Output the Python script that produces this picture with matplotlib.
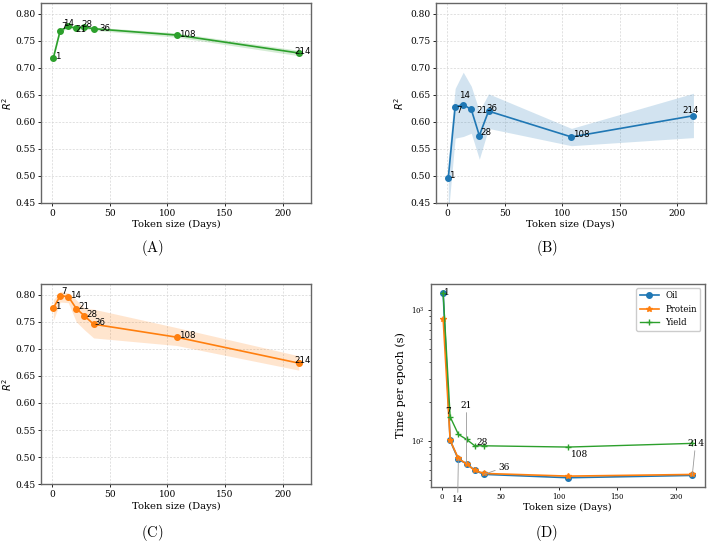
import numpy as np
import matplotlib
matplotlib.use("Agg")
import matplotlib.pyplot as plt

plt.rcParams['font.family'] = ['DejaVu Serif']
plt.rcParams['mathtext.fontset'] = 'dejavusans'

# token sizes (days)
days = [1, 7, 14, 21, 28, 36, 108, 214]

# (A) yield R^2
r2_a = [0.718, 0.769, 0.7766, 0.7735, 0.7753, 0.7724, 0.7607, 0.7275]
lo_a = [0.715, 0.766, 0.7736, 0.7705, 0.7723, 0.7694, 0.7567, 0.7225]
hi_a = [0.721, 0.772, 0.7796, 0.7765, 0.7783, 0.7754, 0.7647, 0.7325]

# (B) oil R^2
r2_b = [0.496, 0.628, 0.632, 0.623, 0.5747, 0.620, 0.5722, 0.6115]
lo_b = [0.43, 0.570, 0.573, 0.579, 0.531, 0.588, 0.556, 0.571]
hi_b = [0.53, 0.662, 0.692, 0.666, 0.620, 0.652, 0.588, 0.653]

# (C) protein R^2
r2_c = [0.7748, 0.7975, 0.7963, 0.7742, 0.7607, 0.7453, 0.7214, 0.6735]
lo_c = [0.752, 0.786, 0.785, 0.7496, 0.735, 0.720, 0.706, 0.6606]
hi_c = [0.790, 0.806, 0.803, 0.790, 0.775, 0.773, 0.739, 0.687]

# (D) time per epoch (s)
t_oil = [1349, 101, 72.5, 67.2, 59.7, 55.7, 52.5, 54.7]
t_protein = [859, 101, 73.7, 67.0, 59.7, 56.6, 54.0, 55.6]
t_yield = [1349, 153, 112.5, 103, 92.1, 92, 90, 96]

W, H = 708, 542


def px_axes(fig, left, right, top, bottom):
    return fig.add_axes([left / W, 1 - bottom / H, (right - left) / W, (bottom - top) / H])


def r2_panel(ax, y, lo, hi, color, offsets, ylab_x):
    ax.fill_between(days, lo, hi, color=color, alpha=0.2, lw=0)
    ax.plot(days, y, '-o', color=color, ms=4, lw=1.2)
    for d, v, off in zip(days, y, offsets):
        ax.annotate(str(d), (d, v), xytext=off, textcoords='offset points',
                    ha='left', va='center', fontsize=6.2, family='DejaVu Sans')
    ax.set_ylim(0.45, 0.82)
    ax.set_yticks(np.arange(0.45, 0.801, 0.05))
    ax.grid(True, ls=(0, (3, 2)), lw=0.5, color='#d5d5d5')
    ax.set_axisbelow(True)
    ax.set_xlabel('Token size (Days)', fontsize=7.2, labelpad=2)
    ax.set_ylabel('$R^2$', fontsize=7)
    ax.yaxis.set_label_coords(ylab_x, 0.5)
    ax.tick_params(labelsize=6.5, length=2, width=0.6, pad=2)
    for s in ax.spines.values():
        s.set_color('#666666')
        s.set_linewidth(1)


fig = plt.figure(figsize=(W / 100, H / 100), dpi=100)

ax_a = px_axes(fig, 41, 311, 3, 203)
r2_panel(ax_a, r2_a, lo_a, hi_a, '#2ca02c',
         [(1, 1), (1, 3), (-3.5, 2), (-1, -1.2), (-2, 2), (4, 0), (2, 0.7), (-3, 1.2)], -0.1)

ax_b = px_axes(fig, 436, 705.7, 3, 203)
r2_panel(ax_b, r2_b, lo_b, hi_b, '#1f77b4',
         [(0.7, 2), (0.7, -2.4), (-2.7, 6.5), (3.6, -0.5), (0.7, 2.2), (-1.7, 2), (1, 1.7), (-8, 3.4)], -0.11)

ax_c = px_axes(fig, 41, 311, 283.7, 484.3)
r2_panel(ax_c, r2_c, lo_c, hi_c, '#ff7f0e',
         [(1.2, 1), (1, 3), (1.2, 1), (1.4, 1.4), (1.2, 1.2), (0.3, 1.4), (2, 1.4), (-3, 2)], -0.1)

# (D) training time
ax_d = px_axes(fig, 430.7, 704.7, 283.7, 487)
ax_d.plot(days, t_oil, '-o', color='#1f77b4', ms=4, lw=1.2, label='Oil')
ax_d.plot(days, t_protein, '-*', color='#ff7f0e', ms=4, lw=1.2, label='Protein')
ax_d.plot(days, t_yield, '-+', color='#2ca02c', ms=4, lw=1.0, label='Yield')
ax_d.set_yscale('log')
ax_d.set_ylim(44.6, 1589)
d_offsets = [(0.5, 0.7), (-1.2, 21), (-0.5, -29), (0, 42), (1, 20), (10, 5), (2, 17), (2.4, 23)]
d_leaders = [14, 21, 36, 214]
for d, v, off in zip(days, t_oil, d_offsets):
    arrow = dict(arrowstyle='-', color='#999999', lw=0.6, shrinkA=0, shrinkB=0) if d in d_leaders else None
    ax_d.annotate(str(d), (d, v), xytext=off, textcoords='offset points',
                  ha='left' if d in (1, 28, 36, 108) else 'center', va='center',
                  fontsize=6.5, arrowprops=arrow, annotation_clip=False)
ax_d.set_xlabel('Token size (Days)', fontsize=7.2, labelpad=2)
ax_d.set_ylabel('Time per epoch (s)', fontsize=8)
ax_d.yaxis.set_label_coords(-0.09, 0.5)
ax_d.tick_params(labelsize=5, length=2, width=0.6, pad=2)
ax_d.tick_params(which='minor', length=1.2, width=0.5)
ax_d.legend(loc='upper right', fontsize=6.2, handlelength=2.2, framealpha=1, edgecolor='#cccccc')
for s in ax_d.spines.values():
    s.set_color('#666666')
    s.set_linewidth(1)

# panel captions
for label, cx, cy in [('(A)', 152, 248), ('(B)', 547, 248), ('(C)', 152, 532.7), ('(D)', 547, 532.7)]:
    fig.text(cx / W, 1 - cy / H, r'$\mathrm{' + label + '}$', ha='center', va='center',
             fontsize=10.5, math_fontfamily='cm')

fig.savefig('out.png', dpi=100)
